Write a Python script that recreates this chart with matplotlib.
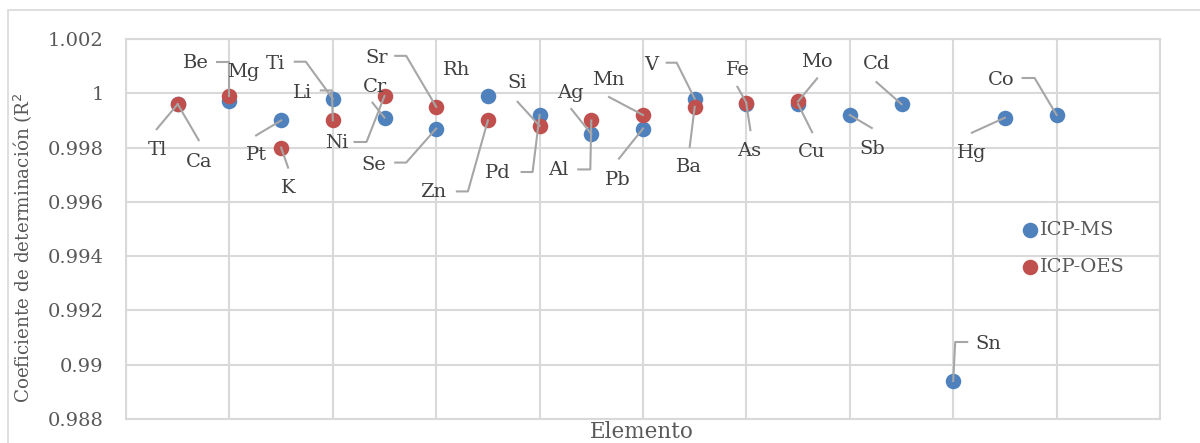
import matplotlib
matplotlib.use("Agg")
import matplotlib.pyplot as plt
from matplotlib.patches import Rectangle
from matplotlib.lines import Line2D
from matplotlib.transforms import IdentityTransform

# R^2 of the calibration curves, one list per technique
ms_elements = ['Tl', 'Mg', 'Pt', 'Ti', 'Cr', 'Se', 'Rh', 'Pd', 'Ag', 'Pb',
               'V', 'As', 'Cu', 'Sb', 'Cd', 'Sn', 'Hg', 'Co']
ms_x = [1, 2, 3, 4, 5, 6, 7, 8, 9, 10, 11, 12, 13, 14, 15, 16, 17, 18]
ms_r2 = [0.9996, 0.9997, 0.9990, 0.9998, 0.9991, 0.9987, 0.9999, 0.9992, 0.9985,
         0.9987, 0.9998, 0.9996, 0.9996, 0.9992, 0.9996, 0.9894, 0.9991, 0.9992]

oes_elements = ['Ca', 'Be', 'K', 'Li', 'Ni', 'Sr', 'Zn', 'Si', 'Al', 'Mn',
                'Ba', 'Fe', 'Mo']
oes_x = [1, 2, 3, 4, 5, 6, 7, 8, 9, 10, 11, 12, 13]
oes_r2 = [0.9996, 0.9999, 0.9980, 0.9990, 0.9999, 0.9995, 0.9990, 0.9988,
          0.9990, 0.9992, 0.9995, 0.99965, 0.9997]

y_ticks = [0.988, 0.990, 0.992, 0.994, 0.996, 0.998, 1.000, 1.002]

# label placement in pixels relative to its point (right, down):
# text centre, then the leader vertices running towards the point
label_layout = {
    'Tl': ((-20, 46), [(-21, 25)]),
    'Ca': ((21, 58), [(21, 36)]),
    'Be': ((-34, -33), [(-12, -34), (0, -34)]),
    'Mg': ((14, -29), []),
    'Pt': ((-25, 35), [(-25, 15)]),
    'K': ((7, 40), [(7, 20)]),
    'Ti': ((-57, -35), [(-38, -37), (-27, -37)]),
    'Li': ((-30, -27), [(-12, -30), (-1, -30)]),
    'Ni': ((-48, 47), [(-30, 46), (-18, 46)]),
    'Cr': ((-10, -31), [(-12, -15)]),
    'Sr': ((-60, -49), [(-41, -51), (-30, -51)]),
    'Se': ((-62, 36), [(-41, 34), (-30, 34)]),
    'Rh': ((-31, -26), []),
    'Zn': ((-55, 72), [(-31, 71), (-20, 71)]),
    'Si': ((-22, -43), [(-22, -24)]),
    'Pd': ((-42, 58), [(-18, 57), (-7, 57)]),
    'Ag': ((-21, -41), [(-20, -25)]),
    'Al': ((-33, 50), [(-13, 49), (-1, 49)]),
    'Mn': ((-35, -35), [(-34, -18)]),
    'Pb': ((-25, 51), [(-24, 30)]),
    'V': ((-43, -34), [(-28, -36), (-18, -36)]),
    'Ba': ((-6, 60), [(-5, 40)]),
    'Fe': ((-9, -33), [(-9, -16)]),
    'As': ((3, 47), [(4, 26)]),
    'Mo': ((19, -39), [(19, -23)]),
    'Cu': ((14, 48), [(14, 28)]),
    'Sb': ((22, 34), [(22, 13)]),
    'Cd': ((-25, -40), [(-25, -22)]),
    'Sn': ((35, -37), [(14, -39), (2, -39)]),
    'Hg': ((-33, 35), [(-33, 15)]),
    'Co': ((-55, -35), [(-34, -37), (-22, -37)]),
}

BLUE = '#4F81BD'
RED = '#C0504D'
GRID = '#D9D9D9'
TXT = '#595959'
LBL = '#404040'

plt.rcParams['font.family'] = ['DejaVu Serif']

W, H = 1200, 443
fig = plt.figure(figsize=(W / 100, H / 100), dpi=100)
ax = fig.add_axes([126 / W, 1 - 419 / H, (1160 - 126) / W, (419 - 39) / H])

ax.set_xlim(0, 20)
ax.set_ylim(0.988, 1.002)
ax.set_xticks(range(0, 21, 2))
ax.set_xticklabels([])
ax.set_yticks(y_ticks)
ax.set_yticklabels([f'{v:g}' for v in y_ticks], color=TXT, fontsize=14)
ax.tick_params(length=0, pad=16)
ax.grid(True, color=GRID, linewidth=1.5)
ax.set_axisbelow(True)
for sp in ax.spines.values():
    sp.set_color(GRID)
    sp.set_linewidth(1.5)

ax.scatter(ms_x, ms_r2, s=125, color=BLUE, zorder=3, label='ICP-MS', linewidths=0)
ax.scatter(oes_x, oes_r2, s=125, color=RED, zorder=4, label='ICP-OES', linewidths=0)

# data labels with leader lines
points = list(zip(ms_elements, ms_x, ms_r2)) + list(zip(oes_elements, oes_x, oes_r2))
for name, x, v in points:
    (tx, ty), leader = label_layout[name]
    ax.annotate(name, xy=(x, v), xytext=(tx, -ty), textcoords='offset pixels',
                ha='center', va='center', fontsize=14, color=LBL, zorder=6)
    if leader:
        px, py = ax.transData.transform((x, v))
        xs = [px + dx for dx, dy in leader] + [px]
        ys = [py - dy for dx, dy in leader] + [py]
        ax.add_line(Line2D(xs, ys, transform=IdentityTransform(), color='#A6A6A6',
                           linewidth=1.5, zorder=5))

leg = ax.legend(loc='upper left', bbox_to_anchor=(1012 / W, 1 - 211 / H),
                bbox_transform=fig.transFigure, frameon=False, fontsize=14,
                handletextpad=0.15, labelspacing=1.0, markerscale=1.0,
                borderpad=0, handlelength=0.8, labelcolor=TXT)

fig.text(23 / W, 1 - 248 / H, 'Coeficiente de determinación (R$^2$', rotation=90,
         ha='center', va='center', fontsize=13.2, color=TXT)
fig.text(642 / W, 1 - 432 / H, 'Elemento', ha='center', va='center',
         fontsize=15.5, color=TXT)

# outer chart border
fig.add_artist(Rectangle((8 / W, -0.05), 1.2, 1 - 10 / H + 0.05,
                         transform=fig.transFigure, fill=False,
                         edgecolor=GRID, linewidth=1.2))

fig.savefig('out.png', dpi=100)
